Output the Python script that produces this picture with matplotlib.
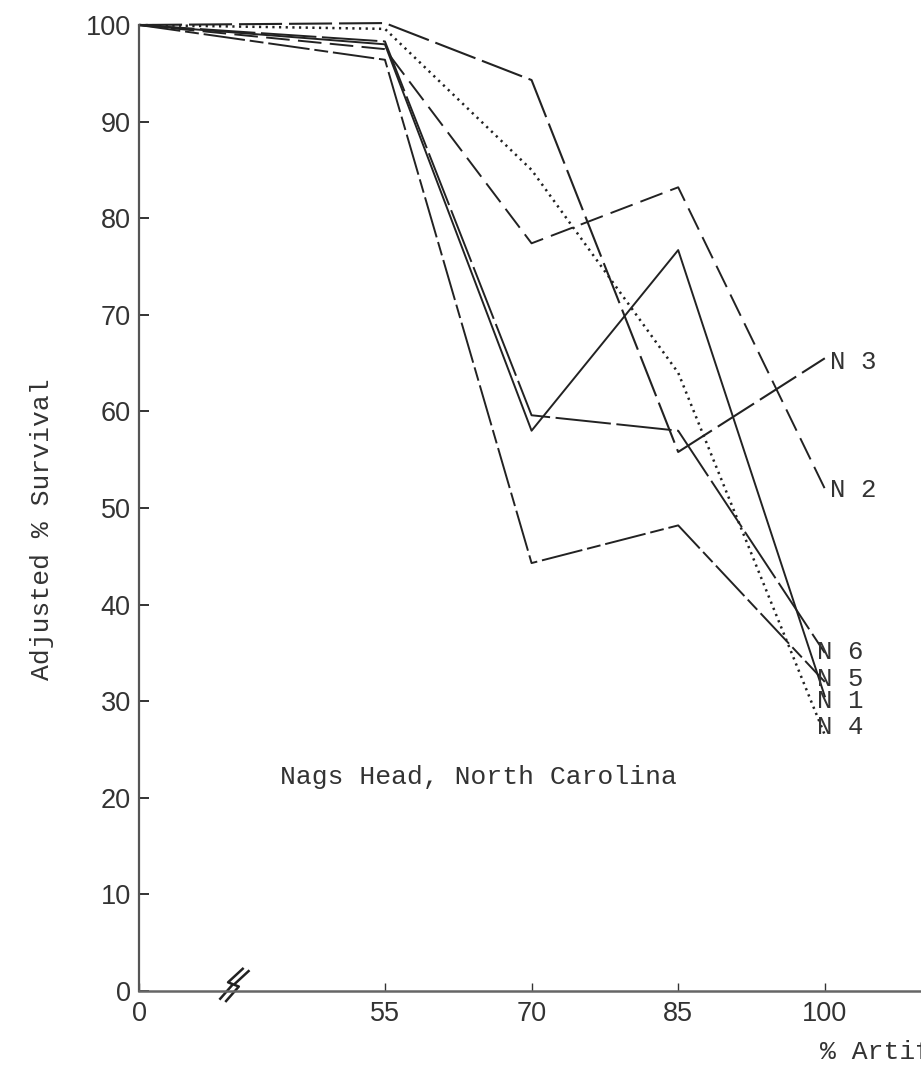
# Nags Head survival curves (broken x axis between 0 and 55)

import numpy as np
import matplotlib.pyplot as plt

plt.rcParams['lines.scale_dashes'] = False

# % artificial seawater
conc = [0, 55, 70, 85, 100]
tick_vals = [0, 55, 70, 85, 100]

# adjusted % survival per group
n1 = [100, 98.0, 58.0, 76.7, 30.5]
n2 = [100, 97.5, 77.4, 83.2, 52.0]
n3 = [100, 100.2, 94.3, 55.8, 65.5]
n4 = [100, 99.6, 85.0, 64.0, 26.5]
n5 = [100, 96.4, 44.3, 48.2, 32.0]
n6 = [100, 98.3, 59.6, 58.0, 35.0]

series = [n1, n2, n3, n4, n5, n6]
names = ['N 1', 'N 2', 'N 3', 'N 4', 'N 5', 'N 6']

# line styles (dash patterns in points)
styles = ['-', (0, (17, 6)), (0, (31, 5)), (0, (1.6, 3.2)),
          (0, (30, 3.5, 10, 3.5)), (0, (40, 4))]
widths = [1.4, 1.4, 1.5, 1.8, 1.4, 1.4]
# where the end labels sit (they are spread out so they don't overlap much)
label_y = [30.0, 51.9, 65.1, 27.3, 32.3, 35.1]
label_dx = [-0.8, 0.5, 0.5, -0.8, -0.8, -0.8]

GAP = 25.16  # axis units used for the 0-55 stretch


def xpos(v):
    v = np.asarray(v, dtype=float)
    return np.where(v >= 55, v - 55 + GAP, v * GAP / 55)


ink = '#222222'
mono = ['Liberation Mono', 'DejaVu Sans Mono']
sans = ['Liberation Sans', 'DejaVu Sans']

fig = plt.figure(figsize=(9.21, 10.68), dpi=100)
ax = fig.add_axes([139 / 921, 77 / 1068, 782 / 921, 966 / 1068])

for vals, ls, lw, name, ly, dx in zip(series, styles, widths, names,
                                      label_y, label_dx):
    ax.plot(xpos(conc), vals, color=ink, lw=lw, ls=ls, clip_on=False)
    ax.text(xpos(100) + dx, ly, name, family=mono, fontsize=18.5,
            color='#333333', ha='left', va='center')

ax.text(14.4, 22.2, 'Nags Head, North Carolina', family=mono,
        fontsize=19, color='#333333', ha='left', va='center')

# axes
ax.set_xlim(0, 80.0)
ax.set_ylim(0, 100)
for s in ['top', 'right']:
    ax.spines[s].set_visible(False)
ax.spines['left'].set_color('#555555')
ax.spines['left'].set_linewidth(1.6)
ax.spines['bottom'].set_color('#666666')
ax.spines['bottom'].set_linewidth(1.8)

ax.set_yticks(range(0, 101, 10))
ax.set_xticks(xpos(tick_vals))
ax.set_xticklabels([str(t) for t in tick_vals])
ax.tick_params(axis='y', direction='in', length=7, width=1.4, pad=6,
               colors='#333333', labelsize=19.5)
ax.tick_params(axis='x', direction='in', length=6, width=1.0, pad=7,
               colors='#333333', labelsize=19.5)
for lab in ax.get_xticklabels() + ax.get_yticklabels():
    lab.set_family(sans)

# axis break mark
bx = GAP * 0.378
for off in [0.0, 0.6]:
    zx = np.array([-1.2, 0.1, -0.4, 1.1]) + off
    zy = np.array([-0.8, 0.7, 0.9, 2.3]) - off * 0.4
    ax.plot(bx + zx, zy, color=ink, lw=1.8, clip_on=False)

fig.text(42 / 921, 1 - 529 / 1068, 'Adjusted % Survival', family=mono,
         fontsize=19, color='#333333', rotation=90, ha='center', va='center')
# the reference runs this label off the right edge of the page
fig.text(820 / 921, 1 - 1052 / 1068, '% Artificial Sea Water', family=mono,
         fontsize=19, color='#333333', ha='left', va='center')

fig.savefig('out.png', dpi=100)
